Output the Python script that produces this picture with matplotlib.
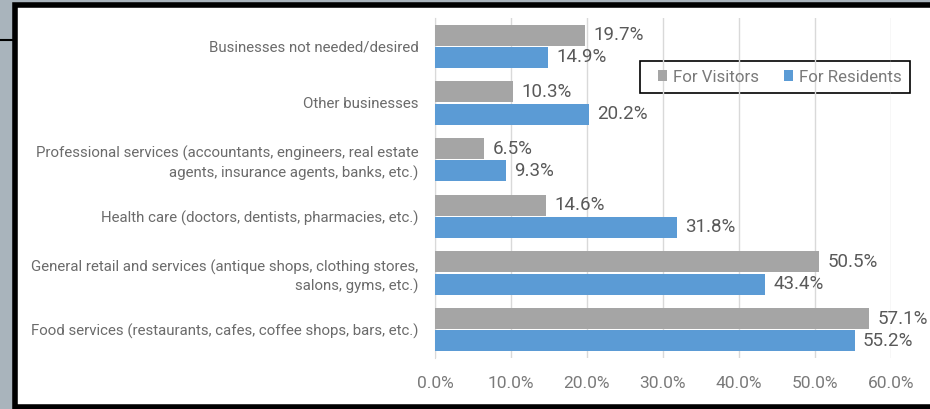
"""Business types wanted downtown, visitors vs residents (horizontal grouped bars)."""

import matplotlib.pyplot as plt
from matplotlib.patches import Rectangle
from matplotlib.lines import Line2D
import numpy as np

CATEGORIES = [
    "Food services (restaurants, cafes, coffee shops, bars, etc.)",
    "General retail and services (antique shops, clothing stores,\nsalons, gyms, etc.)",
    "Health care (doctors, dentists, pharmacies, etc.)",
    "Professional services (accountants, engineers, real estate\nagents, insurance agents, banks, etc.)",
    "Other businesses",
    "Businesses not needed/desired",
]
VISITORS = [57.1, 50.5, 14.6, 6.5, 10.3, 19.7]
RESIDENTS = [55.2, 43.4, 31.8, 9.3, 20.2, 14.9]
XTICKS = [0, 10, 20, 30, 40, 50, 60]

GRAY = "#a5a5a5"
BLUE = "#5b9bd5"
LABEL = "#6b6b6b"
VALUE = "#595959"
TICK = "#7a7a7a"
FRAME_BG = "#a9b4bc"

plt.rcParams["font.family"] = ["Roboto", "DejaVu Sans"]

W, H = 930, 409
fig = plt.figure(figsize=(W / 100, H / 100), dpi=100, facecolor=FRAME_BG)


def px(x, y, w, h):
    # pixel box (top-left origin) -> figure fraction rect
    return (x / W, 1 - (y + h) / H, w / W, h / H)


# white panel with thick black frame, behind the axes
x0, y0, w0, h0 = px(14.5, 4.5, 940, 402)
fig.patches.append(Rectangle((x0, y0), w0, h0, transform=fig.transFigure,
                             facecolor="white", edgecolor="black", linewidth=4, zorder=-5))
fig.lines.append(Line2D([0, 12 / W], [1 - 40 / H] * 2, transform=fig.transFigure,
                        color="black", linewidth=1.5, zorder=-5))

ax = fig.add_axes(px(435, 18, 456, 340))
ax.set_zorder(2)
ax.set_facecolor("none")

y = np.arange(len(CATEGORIES))
bh = 0.37
off = bh / 2 + 0.01
ax.barh(y + off, VISITORS, height=bh, color=GRAY, zorder=3, label="For Visitors")
ax.barh(y - off, RESIDENTS, height=bh, color=BLUE, zorder=3, label="For Residents")

for i in range(len(CATEGORIES)):
    for val, yy in ((VISITORS[i], y[i] + off), (RESIDENTS[i], y[i] - off)):
        ax.annotate(f"{val:.1f}%", (val, yy), xytext=(6, 0), textcoords="offset points",
                    va="center", ha="left", fontsize=13.5, color=VALUE,
                    annotation_clip=False)

ax.set_xlim(0, 60)
ax.set_ylim(-0.5, len(CATEGORIES) - 0.5)
ax.set_xticks(XTICKS)
ax.set_xticklabels([f"{v:.1f}%" for v in XTICKS], fontsize=12.5, color=TICK)
ax.set_yticks(y)
ax.set_yticklabels(CATEGORIES, fontsize=10.85, color=LABEL, linespacing=1.35)
ax.tick_params(axis="x", length=0, pad=13)
ax.tick_params(axis="y", length=0, pad=12)
ax.grid(axis="x", color="#d9d9d9", linewidth=1, zorder=0)
for s in ("top", "right", "bottom"):
    ax.spines[s].set_visible(False)
ax.spines["left"].set_color("#d9d9d9")

# legend: content without frame, box drawn separately to match the wide padding
leg = ax.legend(loc="center", bbox_to_anchor=(780 / W, 1 - 77 / H),
                bbox_transform=fig.transFigure, ncol=2, frameon=False, fontsize=12.2,
                handlelength=0.55, handleheight=0.55, handletextpad=0.35,
                columnspacing=1.45, labelcolor=TICK)
fig.patches.append(Rectangle(px(640, 61, 270, 32)[:2], 270 / W, 32 / H,
                             transform=fig.transFigure, facecolor="white",
                             edgecolor="black", linewidth=1.2, zorder=1))

fig.savefig("out.png", dpi=100, facecolor=fig.get_facecolor())
